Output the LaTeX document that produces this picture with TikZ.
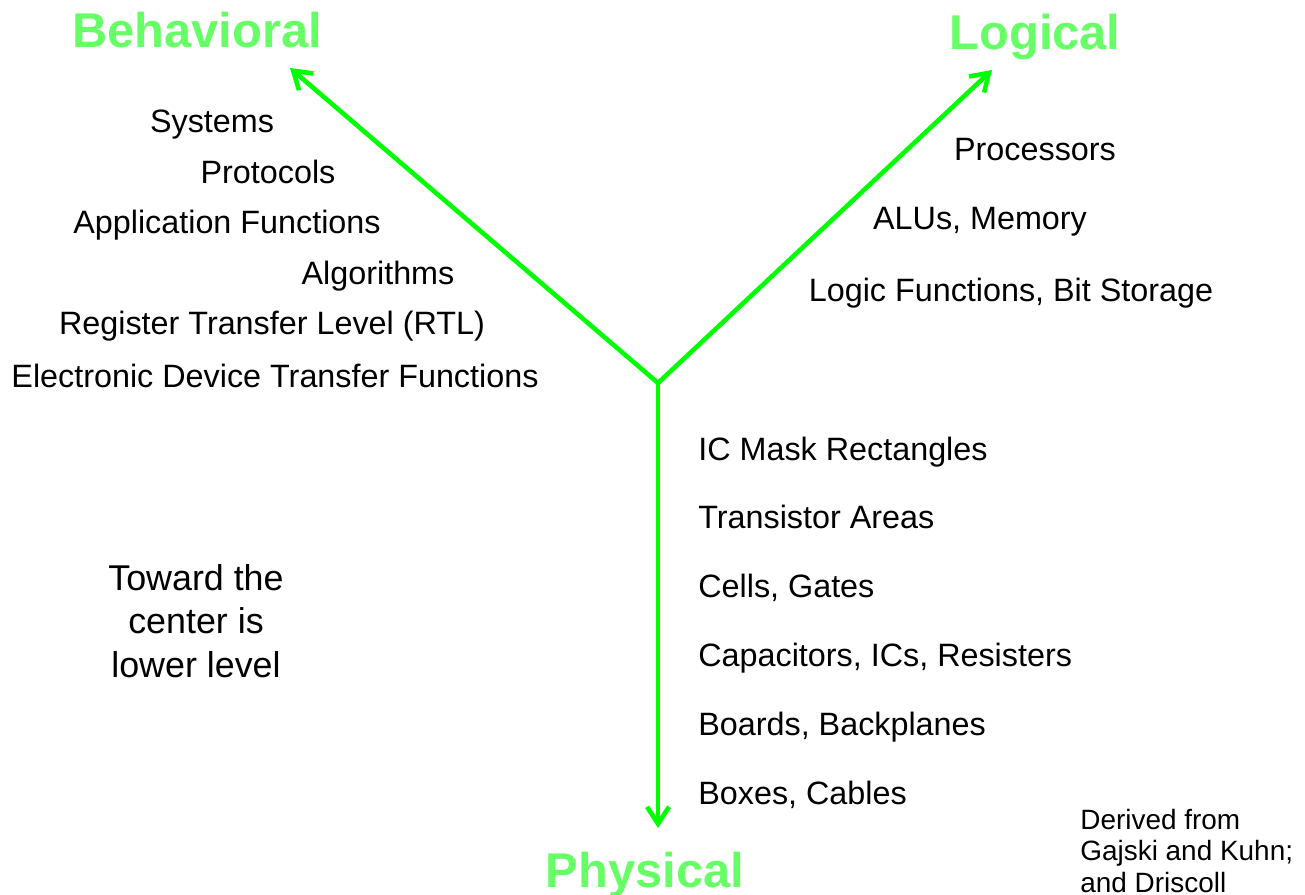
\documentclass[tikz,border=0pt]{standalone}
\usepackage{fontspec}
\setmainfont{Liberation Sans}
\usetikzlibrary{arrows.meta}
\definecolor{axisgreen}{RGB}{0,255,0}
\definecolor{titlegreen}{RGB}{102,255,102}

\begin{document}
\begin{tikzpicture}[x=0.02cm, y=-0.02cm,
		axis/.style={line width=2.6pt, draw=axisgreen, -{Straight Barb[length=3.4mm, width=4.4mm]}},
		title/.style={anchor=base, inner sep=0pt, text=titlegreen, font=\fontsize{27.8}{30}\selectfont\bfseries},
		level/.style={anchor=base, inner sep=0pt, font=\fontsize{18.4}{22}\selectfont},
		levelright/.style={level, anchor=base west}]
				\useasboundingbox (0,0) rectangle (1305,895);
		
				% the three axes of the Y
				\coordinate (centre) at (658,383);
				\coordinate (behtip) at (290,68);
				\coordinate (logtip) at (992,70);
				\coordinate (phystip) at (658,828);
				\draw[axis] (centre) -- (behtip);
				\draw[axis] (centre) -- (logtip);
				\draw[axis] (centre) -- (phystip);
		
				\node[title] (behavioral) at (197,48) {Behavioral};
				\node[title] (logical) at (1035,50) {Logical};
				\node[title] (physical) at (645,887) {Physical};
		
				% behavioral levels
				\node[level] (systems) at (212,133) {Systems};
				\node[level] (protocols) at (268,184) {Protocols};
				\node[level] (appfun) at (227,234) {Application Functions};
				\node[level] (algorithms) at (378,284) {Algorithms};
				\node[level] (rtl) at (272,335) {Register Transfer Level (RTL)};
				\node[level] (devfun) at (275,387) {Electronic Device Transfer Functions};
		
				% logical levels
				\node[level] (processors) at (1035,161) {Processors};
				\node[level] (alus) at (980,230) {ALUs, Memory};
				\node[level] (logicfun) at (1011,301) {Logic Functions, Bit Storage};
		
				% physical levels
				\node[levelright] (mask) at (698,460) {IC Mask Rectangles};
				\node[levelright] (transistor) at (698,528) {Transistor Areas};
				\node[levelright] (cells) at (698,597) {Cells, Gates};
				\node[levelright] (capacitors) at (698,666) {Capacitors, ICs, Resisters};
				\node[levelright] (boards) at (698,735) {Boards, Backplanes};
				\node[levelright] (boxes) at (698,804) {Boxes, Cables};
		
				\node[align=center, inner sep=0pt, font=\fontsize{20.4}{24.9}\selectfont] (toward) at (196,621) {Toward the\\center is\\lower level};
				\node[align=left, anchor=west, inner sep=0pt, font=\fontsize{15.9}{18.1}\selectfont] (derived) at (1080,851) {Derived from\\Gajski and Kuhn;\\and Driscoll};
			\end{tikzpicture}
\end{document}
